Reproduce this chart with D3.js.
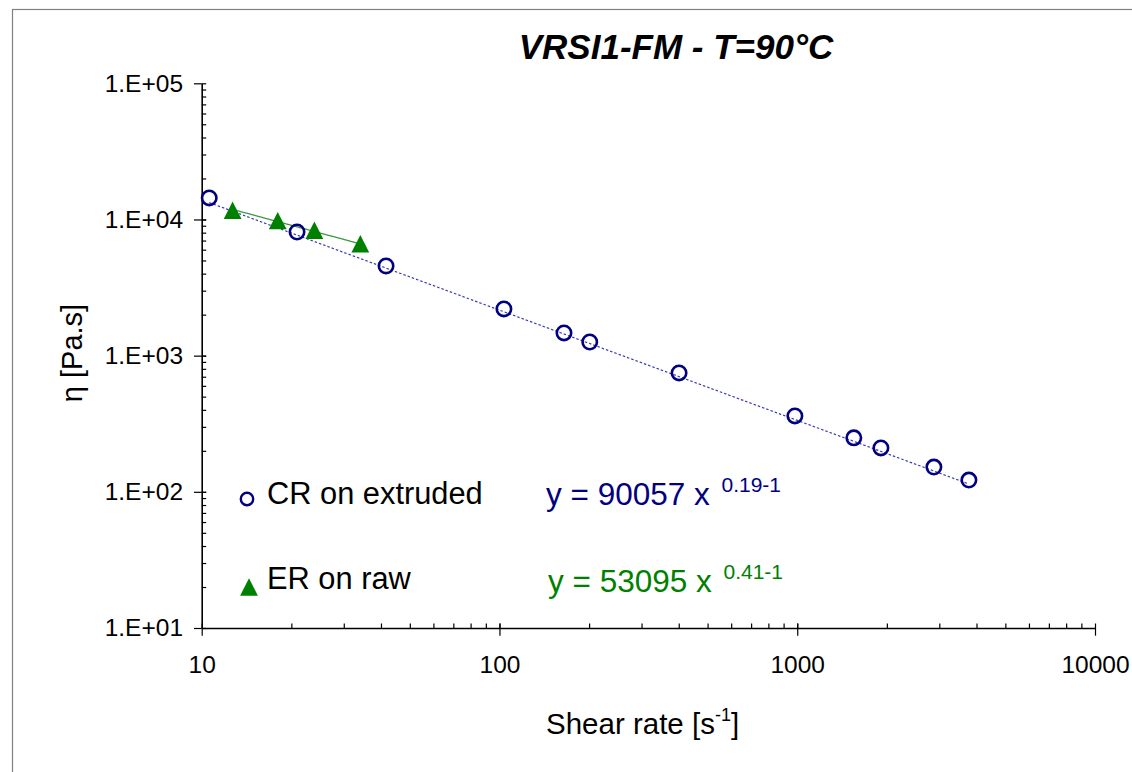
<!DOCTYPE html>
<html lang="en">
<head>
    <meta charset="UTF-8">
    <title>VRSI1-FM viscosity</title>
    <style>
        body { margin: 0; background: #fff; }
        svg text { font-family: "Liberation Sans", Arial, sans-serif; }
    </style>
</head>
<body>
    <script src="https://cdnjs.cloudflare.com/ajax/libs/d3/7.8.5/d3.min.js"></script>
    <script>
        // data
        var crRate = [10.6, 20.9, 41.6, 103.5, 164.7, 201, 401, 982, 1549, 1910, 2877, 3772];
        var crVisc = [14390, 8090, 4557, 2203, 1468, 1260, 747, 361, 249, 210, 152, 122];
        var erRate = [12.7, 18.0, 23.9, 34.1];
        var erVisc = [11680, 9800, 8330, 6640];

        // power law fits shown on the chart
        var crFit = {k: 90057, n: 0.19};
        var erFit = {k: 53095, n: 0.41};

        var xTickValues = [10, 100, 1000, 10000];
        var xTickLabels = ["10", "100", "1000", "10000"];
        var yTickValues = [10, 100, 1000, 10000, 100000];
        var yTickLabels = ["1.E+01", "1.E+02", "1.E+03", "1.E+04", "1.E+05"];

        var W = 1132, H = 772;
        var blue = "#000080", green = "#008000";

        var svg = d3.select("body").append("svg")
            .attr("width", W)
            .attr("height", H);

        // outer frame (cut off at right / bottom)
        svg.append("rect")
            .attr("x", 12.5).attr("y", 9.5)
            .attr("width", 1300).attr("height", 900)
            .attr("fill", "none")
            .attr("stroke", "#808080")
            .attr("stroke-width", 1.2);

        var x = d3.scaleLog().domain([10, 10000]).range([201.7, 1095]);
        var y = d3.scaleLog().domain([10, 100000]).range([628, 83.3]);

        // minor ticks for log decades
        function minors(lo, hi) {
            var out = [];
            for (var d = lo; d < hi; d *= 10)
                for (var m = 1; m <= 10; m++) out.push(d * m);
            return out;
        }

        // x axis
        var gx = svg.append("g").attr("transform", "translate(0,628)");
        gx.call(d3.axisBottom(x).tickValues(minors(10, 10000)).tickSize(-4.5).tickFormat(""))
            .call(function(g) { g.select(".domain").remove(); });
        var gx2 = svg.append("g").attr("transform", "translate(0,628)");
        gx2.call(d3.axisBottom(x).tickValues(xTickValues).tickSizeInner(7.7).tickSizeOuter(0)
                .tickPadding(20)
                .tickFormat(function(d, i) { return xTickLabels[i]; }));
        gx2.select(".domain").attr("stroke-width", 1.6);
        gx2.selectAll("text").attr("font-size", 24.5).attr("fill", "#000");

        // y axis
        var gy = svg.append("g").attr("transform", "translate(201.7,0)");
        gy.call(d3.axisLeft(y).tickValues(minors(10, 100000)).tickSize(-4.5).tickFormat(""))
            .call(function(g) { g.select(".domain").remove(); });
        var gy2 = svg.append("g").attr("transform", "translate(201.7,0)");
        gy2.call(d3.axisLeft(y).tickValues(yTickValues).tickSizeInner(7.7).tickSizeOuter(0)
                .tickPadding(11)
                .tickFormat(function(d, i) { return yTickLabels[i]; }));
        gy2.select(".domain").attr("stroke-width", 1.6);
        gy2.selectAll("text").attr("font-size", 24.5).attr("fill", "#000");

        svg.selectAll(".tick line").attr("stroke", "#000").attr("stroke-width", 1.2);

        // trend lines (power law over the data range)
        function fitLine(fit, xs) {
            var lo = d3.min(xs), hi = d3.max(xs);
            var pts = d3.range(0, 41).map(function(i) {
                var v = Math.exp(Math.log(lo) + (Math.log(hi) - Math.log(lo)) * i / 40);
                return [v, fit.k * Math.pow(v, fit.n - 1)];
            });
            return d3.line().x(function(d) { return x(d[0]); }).y(function(d) { return y(d[1]); })(pts);
        }

        svg.append("path")
            .attr("d", fitLine(crFit, crRate))
            .attr("fill", "none")
            .attr("stroke", "#3a3ab8")
            .attr("stroke-width", 1.2)
            .attr("stroke-dasharray", "2.5,2");

        svg.append("path")
            .attr("d", fitLine(erFit, erRate))
            .attr("fill", "none")
            .attr("stroke", "#3c9a3c")
            .attr("stroke-width", 1.3);

        var tri = "M0,-8.7L8.9,8.7L-8.9,8.7Z";

        // CR points
        svg.selectAll(".cr")
            .data(crRate)
            .enter()
            .append("circle")
            .attr("class", "cr")
            .attr("cx", function(d) { return x(d); })
            .attr("cy", function(d, i) { return y(crVisc[i]); })
            .attr("r", 7.2)
            .attr("fill", "none")
            .attr("stroke", blue)
            .attr("stroke-width", 2.6);

        // ER points
        svg.selectAll(".er")
            .data(erRate)
            .enter()
            .append("path")
            .attr("class", "er")
            .attr("d", tri)
            .attr("transform", function(d, i) {
                return "translate(" + x(d) + "," + y(erVisc[i]) + ")";
            })
            .attr("fill", green);

        // title
        svg.append("text")
            .attr("x", 676).attr("y", 59)
            .attr("text-anchor", "middle")
            .attr("font-size", 35)
            .attr("font-weight", "bold")
            .attr("font-style", "italic")
            .text("VRSI1-FM - T=90°C");

        // axis titles
        var xt = svg.append("text")
            .attr("x", 546).attr("y", 734)
            .attr("font-size", 29.5);
        xt.append("tspan").text("Shear rate [s");
        xt.append("tspan").attr("font-size", 18).attr("dy", -13).text("-1");
        xt.append("tspan").attr("dy", 13).text("]");

        svg.append("text")
            .attr("transform", "translate(82,353) rotate(-90)")
            .attr("text-anchor", "middle")
            .attr("font-size", 29)
            .text("η [Pa.s]");

        // legend
        svg.append("circle")
            .attr("cx", 247).attr("cy", 499)
            .attr("r", 6.2)
            .attr("fill", "none")
            .attr("stroke", blue)
            .attr("stroke-width", 2.4);
        svg.append("path")
            .attr("d", tri)
            .attr("transform", "translate(249,587)")
            .attr("fill", green);
        svg.append("text").attr("x", 267).attr("y", 504).attr("font-size", 30.8).text("CR on extruded");
        svg.append("text").attr("x", 267).attr("y", 589).attr("font-size", 30.8).text("ER on raw");

        // equations
        function equation(fit, ty, col) {
            var t = svg.append("text").attr("x", ty.x).attr("y", ty.y)
                .attr("font-size", 31.5).attr("fill", col);
            t.append("tspan").text("y = " + fit.k + " x ");
            t.append("tspan").attr("font-size", 21).attr("dy", -13).attr("dx", 3)
                .text(fit.n.toFixed(2) + "-1");
        }
        equation(crFit, {x: 546, y: 505}, blue);
        equation(erFit, {x: 548, y: 592}, green);
    </script>
</body>
</html>
